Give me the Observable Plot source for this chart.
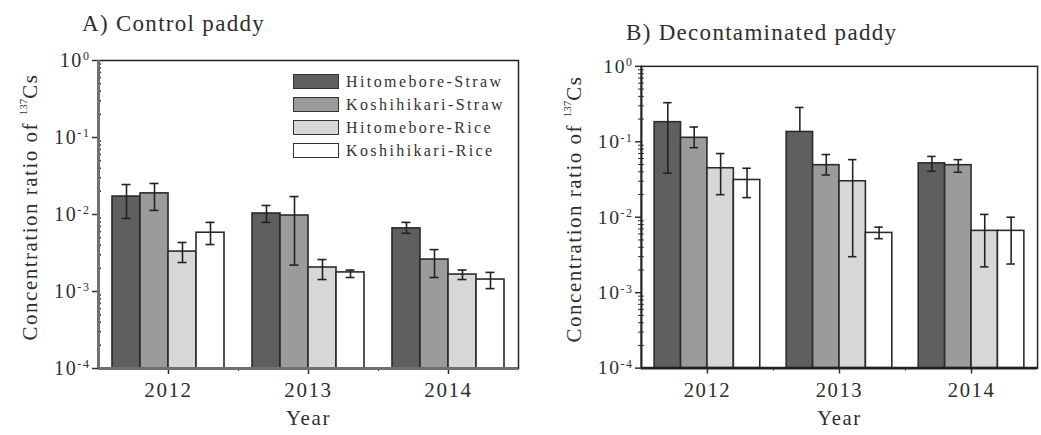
<!DOCTYPE html>
<html><head><meta charset="utf-8">
<script src="https://cdn.jsdelivr.net/npm/d3@7"></script>
<script src="https://cdn.jsdelivr.net/npm/@observablehq/plot@0.6"></script>
<style>
body{margin:0;width:1041px;height:435px;overflow:hidden;background:#fff;font-family:"Liberation Serif",serif;position:relative;color:#2e2e2e}
.panel{position:absolute;top:0;height:435px;overflow:hidden}
.title{position:absolute;font-size:23px;white-space:nowrap;letter-spacing:1.3px;line-height:1}
.ylab{position:absolute;font-size:21px;white-space:nowrap;letter-spacing:1.5px;transform:translate(-50%,-50%) rotate(-90deg);line-height:1}
.ylab sup{font-size:11px;vertical-align:top;position:relative;top:-2px;letter-spacing:0}
.legend{position:absolute;left:293px;top:70px;font-size:16px;letter-spacing:2.4px;color:#333}
.legend .row{display:flex;align-items:center;height:23px}
.legend .sw{width:44px;height:13px;border:1.5px solid #333;margin-right:7px;box-sizing:content-box}
</style></head><body>
<div id="left" class="panel" style="left:0;width:520px"></div>
<div id="right" class="panel" style="left:520px;width:521px"></div>
<div class="title" style="left:82px;top:12px">A) Control paddy</div>
<div class="title" style="left:626px;top:21px">B) Decontaminated paddy</div>
<div class="ylab" style="left:30px;top:207px">Concentration ratio of <sup>137</sup>Cs</div>
<div class="ylab" style="left:574px;top:209px">Concentration ratio of <sup>137</sup>Cs</div>
<div class="legend" id="legend"></div>
<script>
const years = ["2012", "2013", "2014"];
const series = ["Hitomebore-Straw", "Koshihikari-Straw", "Hitomebore-Rice", "Koshihikari-Rice"];
const fills = ["#5f5f5f", "#9b9b9b", "#d7d7d7", "#ffffff"];
const yTicks = [1, 0.1, 0.01, 0.001, 0.0001];

// Values ordered by year, then series
const controlMean = [0.0171, 0.0188, 0.0033, 0.0058,  0.0103, 0.0097, 0.00205, 0.00177,  0.0066, 0.0026, 0.00166, 0.00143];
const controlLow  = [0.0089, 0.0113, 0.00238, 0.00407, 0.0079, 0.0022, 0.00143, 0.00152,  0.0057, 0.00152, 0.00143, 0.00109];
const controlHigh = [0.0245, 0.0253, 0.00433, 0.0079,  0.0131, 0.0171, 0.0026, 0.0019,   0.0079, 0.0035, 0.0019, 0.00177];

const deconMean = [0.182, 0.113, 0.0446, 0.0312,  0.135, 0.049, 0.030, 0.0062,  0.0518, 0.049, 0.0066, 0.0066];
const deconLow  = [0.0384, 0.0835, 0.0199, 0.0182, 0.135, 0.0363, 0.0030, 0.0052, 0.0407, 0.0395, 0.0022, 0.0024];
const deconHigh = [0.33, 0.157, 0.0699, 0.0446,   0.285, 0.0678, 0.058, 0.0074,  0.064, 0.058, 0.0109, 0.0100];

const minorTicks = [];
for (let e = -4; e < 0; e++) for (let m = 2; m <= 9; m++) minorTicks.push(m * Math.pow(10, e));

function buildData(mean, low, high) {
  const data = [];
  years.forEach((yr, i) => series.forEach((s, k) => {
    const j = i * 4 + k;
    data.push({year: yr, series: s, x1: i - 0.4 + k * 0.2, x2: i - 0.2 + k * 0.2, xc: i - 0.3 + k * 0.2,
               mean: mean[j], low: low[j], high: high[j]});
  }));
  return data;
}

function panel(data, o) {
  const minorAxes = o.minorBoth
    ? [Plot.axisY({ticks: minorTicks, tickSize: 3, tickFormat: () => "", label: null}),
       Plot.axisY({ticks: minorTicks, tickSize: -3, tickFormat: () => "", label: null})]
    : [Plot.axisY({ticks: minorTicks, tickSize: -3, tickFormat: () => "", label: null, strokeWidth: 1.5})];
  const svg = Plot.plot({
    width: o.width, height: 435,
    marginLeft: o.ml, marginRight: o.mr, marginTop: o.mt, marginBottom: o.mb,
    style: {fontFamily: "'Liberation Serif', serif", fontSize: "20px", color: "#2e2e2e", background: "transparent", overflow: "visible"},
    x: {domain: [-0.5, 2.5]},
    y: {type: "log", domain: [1e-4, 1]},
    color: {domain: series, range: fills},
    marks: [
      Plot.rect(data, {x1: "x1", x2: "x2", y1: () => 1e-4, y2: "mean", fill: "series", stroke: "#2a2a2a", strokeWidth: 1.6}),
      Plot.ruleX(data, {x: "xc", y1: "low", y2: "high", stroke: "#222", strokeWidth: 1.6}),
      Plot.ruleY(data, {x1: d => d.xc - 0.032, x2: d => d.xc + 0.032, y: "high", stroke: "#222", strokeWidth: 1.6}),
      Plot.ruleY(data, {x1: d => d.xc - 0.032, x2: d => d.xc + 0.032, y: "low", stroke: "#222", strokeWidth: 1.6, filter: d => d.low < d.mean}),
      Plot.axisY({ticks: yTicks, tickFormat: d => "10^" + Math.round(Math.log10(d)), tickSize: 6, tickPadding: 2, label: null, strokeWidth: 1.5}),
      ...minorAxes,
      Plot.axisX({ticks: [0, 1, 2], tickFormat: i => years[i], tickSize: 6, tickPadding: o.tp, fontSize: 21, label: "Year", labelAnchor: "center", labelOffset: o.lo, labelArrow: false, strokeWidth: 1.5}),
      Plot.axisX({ticks: [0.5, 1.5], tickSize: 3, tickFormat: () => "", label: null}),
      Plot.frame({stroke: "#222", strokeWidth: 1.5}),
      Plot.ruleX([-0.5], {stroke: o.axisColor, strokeWidth: o.axisWidth}),
      Plot.ruleY([1e-4], {stroke: o.axisColor, strokeWidth: 3})
    ]
  });
  svg.querySelectorAll("text").forEach(t => {
    const m = /^10\^(-?\d+)$/.exec(t.textContent);
    if (m) {
      t.textContent = "10";
      const ts = document.createElementNS("http://www.w3.org/2000/svg", "tspan");
      ts.setAttribute("dy", "-0.55em");
      ts.setAttribute("font-size", "12px");
      ts.textContent = m[1];
      t.appendChild(ts);
    }
    if (t.textContent === "Year") t.setAttribute("font-size", "21px");
  });
  svg.style.letterSpacing = "1.6px";
  return svg;
}

document.getElementById("left").append(panel(buildData(controlMean, controlLow, controlHigh),
  {width: 520, ml: 98, mr: 2, mt: 60, mb: 67, axisColor: "#707070", axisWidth: 3, minorBoth: false, tp: 8, lo: 56}));
document.getElementById("right").append(panel(buildData(deconMean, deconLow, deconHigh),
  {width: 530, ml: 123, mr: 4, mt: 67, mb: 61, axisColor: "#222", axisWidth: 2, minorBoth: true, tp: 8, lo: 58}));

const legend = document.getElementById("legend");
series.forEach((s, k) => {
  const row = document.createElement("div");
  row.className = "row";
  const sw = document.createElement("div");
  sw.className = "sw";
  sw.style.background = fills[k];
  const lab = document.createElement("span");
  lab.textContent = s;
  row.append(sw, lab);
  legend.append(row);
});
</script>
</body></html>
